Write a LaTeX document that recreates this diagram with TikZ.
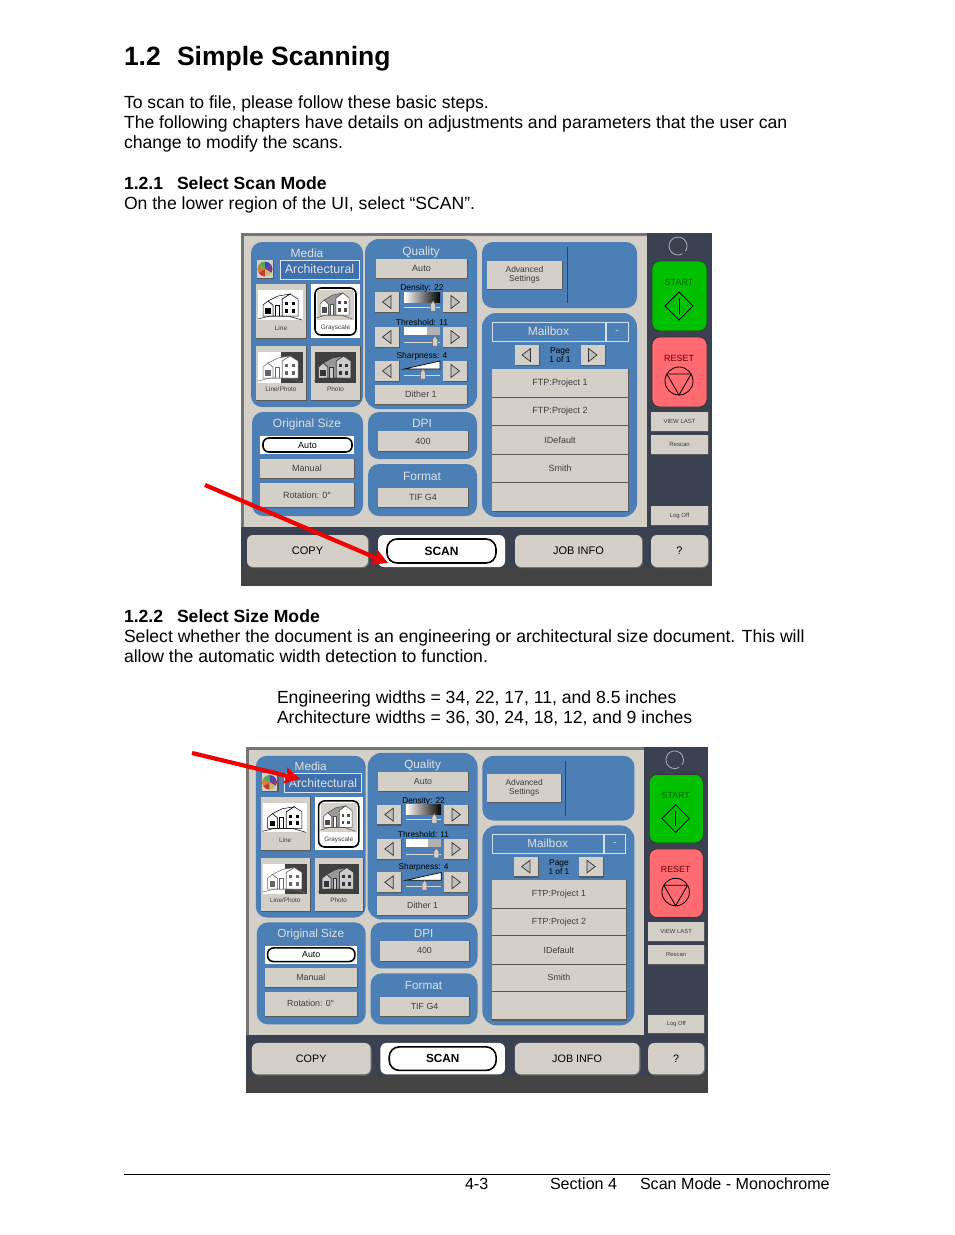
\documentclass[tikz,border=0pt]{standalone}
\usepackage{fontspec}
\setmainfont{Liberation Sans}
\usetikzlibrary{arrows.meta}
\definecolor{uiface}{HTML}{D4D0C8}
\definecolor{uipanel}{HTML}{4B7FB5}
\definecolor{uidark}{HTML}{3A4150}
\definecolor{uiband}{HTML}{434343}
\definecolor{uiframe}{HTML}{757575}
\definecolor{uiblue}{HTML}{3F70AE}
\definecolor{uigreen}{HTML}{00C000}
\definecolor{uired}{HTML}{FF6B70}
\definecolor{uitext}{HTML}{3C3C3C}
\definecolor{arrowred}{HTML}{F00000}
\tikzset{
  txt/.style = {anchor=base west, inner sep=0pt, outer sep=0pt, font=\fontsize{#1}{#1}\selectfont},
  txt/.default = 17.6,
  head/.style = {txt, font=\fontsize{#1}{#1}\selectfont\bfseries},
  head/.default = 17.6,
  panel/.style = {fill=uipanel, rounded corners=#1},
  panel/.default = 11pt,
  btn/.style = {fill=uiface, preaction={draw=black!65, line width=1.2pt, transform canvas={shift={(0.6pt,-0.6pt)}}}},
  softbtn/.style = {fill=uiface, rounded corners=6pt, preaction={draw=black!60, line width=1.2pt, rounded corners=6pt, transform canvas={shift={(0.6pt,-0.6pt)}}}},
  lbl/.style = {inner sep=0pt, text=uitext, transform shape, font=\fontsize{#1}{#1}\selectfont},
  lbl/.default = 9,
  ttl/.style = {lbl=#1, text=white!88!black},
  ttl/.default = 12,
  thumbline/.style = {draw=black, line width=0.5pt},
  redarrow/.style = {draw=arrowred, line width=4.2pt, -{Stealth[length=15pt,width=16pt,inset=2pt]}}
}
% one thumbnail house, box 45 x 30
\newcommand{\uihouse}[5]{
	\begin{scope}[shift={(#1,#2)}]
		\draw[thumbline, draw=#3, fill=#4] (24,26) -- (24,9) -- (32,4) -- (40,9) -- (40,26) -- cycle;
		\draw[thumbline, draw=#3, fill=#4] (5,26) -- (5,15) -- (10,11) -- (15,15) -- (15,26) -- cycle;
		\draw[thumbline, draw=#3, fill=#5] (15,26) -- (15,15) -- (10,11) -- (20,6) -- (32,4) -- (24,9) -- (24,26) -- cycle;
		\draw[thumbline, draw=#3, fill=#4] (17,26) -- (17,15) -- (21,15) -- (21,26);
		\fill[#3] (7,18) rectangle (13,24);
		\fill[#3] (27,12) rectangle (30,15);
		\fill[#3] (34,12) rectangle (37,15);
		\fill[#3] (27,19) rectangle (30,23);
		\fill[#3] (34,19) rectangle (37,23);
		\draw[thumbline, draw=#3] (0,29) -- (12,26) -- (30,26) -- (44,30);
	\end{scope}
}
% small arrow button
\newcommand{\uiarrow}[3]{
	\begin{scope}[shift={(#1,#2)}, xscale=#3]
		\path[btn] (-12,-10) rectangle (12,10);
		\draw[black!80, line width=0.7pt, fill=black!25] (-4.5,0) -- (4,-6.5) -- (4,6.5) -- cycle;
	\end{scope}
}
% slider with thumb
\newcommand{\uislider}[2]{
	\draw[white!85!black, line width=0.6pt] (163,#2) -- (199,#2);
	\draw[black!60, line width=0.5pt, fill=uiface] (#1-2.5,#2-2.5) -- (#1,#2-6) -- (#1+2.5,#2-2.5) -- (#1+2.5,#2+4) -- (#1-2.5,#2+4) -- cycle;
}
% the whole panel, in the pixels of its own corner
\newcommand{\uiscreen}[5]{
\begin{scope}[shift={(#2,#3)}, xscale=#4, yscale=#5, name prefix=#1]
	% Backgrounds
	\fill[uiface] (0,0) rectangle (406,294);
	\fill[uiframe] (0,0) rectangle (406,3);
	\fill[uiframe] (0,0) rectangle (3,294);
	\fill[uidark] (406,0) rectangle (471,353);
	\fill[uidark] (0,294) rectangle (471,335);
	\fill[uiband] (0,335) rectangle (471,353);

	% Panels
	\fill[panel] (10,9) rectangle (122,174);
	\fill[panel=14pt] (124,6) rectangle (236,176);
	\fill[panel] (11,179) rectangle (122,283);
	\fill[panel] (127,179) rectangle (236,226);
	\fill[panel] (127,231) rectangle (236,283);
	\fill[panel] (241,9) rectangle (396,75);
	\fill[panel=14pt] (241,80) rectangle (396,284);

	% Media
	\node[ttl] (media) at (66,20) {Media};
	\path[btn] (16,27) rectangle (32,45);
	\fill[red!55!gray] (24,36) -- +(90:7.5) arc (90:150:7.5) -- cycle;
	\fill[orange!65!gray] (24,36) -- +(150:7.5) arc (150:210:7.5) -- cycle;
	\fill[green!35!gray] (24,36) -- +(210:7.5) arc (210:270:7.5) -- cycle;
	\fill[blue!45!gray] (24,36) -- +(270:7.5) arc (270:330:7.5) -- cycle;
	\fill[violet!55!gray] (24,36) -- +(330:7.5) arc (330:390:7.5) -- cycle;
	\fill[yellow!45!gray] (24,36) -- +(30:7.5) arc (30:90:7.5) -- cycle;
	\draw[fill=uiblue, draw=white!80!uipanel, line width=0.7pt] (39,27) rectangle (118,46);
	\node[ttl=12.5] (arch) at (78.5,36.5) {Architectural};

	\path[btn] (15,51) rectangle (65,105);
	\fill[white] (17,57) rectangle (62,87);
	\uihouse{17}{57}{black}{white}{white}
	\node[lbl=6.5] (line) at (40,95) {Line};
	\fill[white] (70,51) rectangle (119,105);
	\draw[black, line width=1.6pt, rounded corners=6pt] (74,55) rectangle (115,102);
	\fill[uiface] (76,57) rectangle (113,87);
	\begin{scope}[shift={(75,56)}, xscale=0.83]
		\uihouse{0}{0}{black!70}{white}{black!40}
	\end{scope}
	\node[lbl=6.5] (gray) at (94.5,95) {Grayscale};
	\path[btn] (15,113) rectangle (65,167);
	\fill[white] (17,119) rectangle (40,150);
	\fill[black!75] (40,119) rectangle (62,150);
	\uihouse{17}{119}{black!60}{white}{white}
	\node[lbl=6.5] (linephoto) at (40,156) {Line/Photo};
	\path[btn] (70,113) rectangle (119,167);
	\fill[black!75] (74,119) rectangle (115,150);
	\begin{scope}[shift={(73,119)}, xscale=0.92]
		\uihouse{0}{0}{black!80}{white!80!black}{black!40}
	\end{scope}
	\node[lbl=6.5] (photo) at (94.5,156) {Photo};

	% Quality
	\node[ttl] (quality) at (180,19) {Quality};
	\path[btn] (135,26) rectangle (226,45) node[midway, lbl] (auto) {Auto};
	\node[lbl=8.5, text=black] (density) at (181,55) {Density: 22};
	\uiarrow{146}{69}{1}
	\uiarrow{214}{69}{-1}
	\shade[left color=white, right color=black] (163,59) rectangle (199,69);
	\uislider{192}{74}
	\node[lbl=8.5, text=black] (threshold) at (181,89) {Threshold: 11};
	\uiarrow{146}{104}{1}
	\uiarrow{214}{104}{-1}
	\fill[white] (163,94) rectangle (199,102);
	\fill[black!30] (186,94) rectangle (199,102);
	\uislider{194}{109}
	\node[lbl=8.5, text=black] (sharpness) at (181,123) {Sharpness: 4};
	\uiarrow{146}{138}{1}
	\uiarrow{214}{138}{-1}
	\draw[fill=white, line width=0.7pt] (163,136) -- (199,128) -- (199,136) -- cycle;
	\uislider{182}{142}
	\path[btn] (134,152) rectangle (226,171) node[midway, lbl] (dither) {Dither 1};

	% Original size
	\node[ttl] (orig) at (66,191) {Original Size};
	\fill[white] (19,203) rectangle (113,221);
	\draw[black, line width=1.6pt, rounded corners=6pt, fill=white] (22,205) rectangle (111,219) node[midway, lbl, text=black] (sizeauto) {Auto};
	\path[btn] (19,226) rectangle (113,245) node[midway, lbl] (manual) {Manual};
	\path[btn] (19,250) rectangle (113,274) node[midway, lbl] (rotation) {Rotation: 0\textdegree};

	% DPI and format
	\node[ttl] (dpi) at (181,190) {DPI};
	\path[btn] (137,198) rectangle (227,218) node[midway, lbl] (dpival) {400};
	\node[ttl] (format) at (181,243) {Format};
	\path[btn] (137,255) rectangle (227,274) node[midway, lbl] (tif) {TIF G4};

	% Advanced
	\path[btn] (246,28) rectangle (321,56) node[midway, lbl=8.5, align=center] (advanced) {Advanced\\[1pt]Settings};
	\draw[uidark, line width=0.7pt] (326,14) -- (326,70);

	% Mailbox
	\draw[draw=white!75!uipanel, line width=0.6pt] (251,89) rectangle (364,108);
	\node[ttl] (mailbox) at (307.5,98.5) {Mailbox};
	\draw[draw=white!75!uipanel, line width=0.6pt] (365,89) rectangle (387,108);
	\node[ttl=10] (minus) at (376,98.5) {-};
	\uiarrow{285.5}{122}{1}
	\uiarrow{351.5}{122}{-1}
	\node[lbl=8.5, text=black, align=center] (page) at (319,122.5) {Page\\[0.5pt]1 of 1};
	\path[btn] (251,136) rectangle (387,164) node[midway, lbl] (rowa) {FTP:Project 1};
	\path[btn] (251,165) rectangle (387,192) node[midway, lbl] (rowb) {FTP:Project 2};
	\path[btn] (251,193) rectangle (387,221) node[midway, lbl] (rowc) {IDefault};
	\path[btn] (251,222) rectangle (387,249) node[midway, lbl] (rowd) {Smith};
	\path[btn] (251,250) rectangle (387,278);

	% Right column
	\draw[white!70!black, line width=0.8pt] (437,13) ++(60:9) arc (60:395:9);
	\draw[black!80, fill=uigreen, rounded corners=8pt, line width=0.7pt] (411,28) rectangle (466,98);
	\node[lbl=9, text=green!40!black] (start) at (438,49) {START};
	\draw[black, line width=0.8pt] (438,59) -- (452,73) -- (438,87) -- (424,73) -- cycle;
	\draw[black, line width=0.8pt] (438,65) -- (438,81);
	\draw[black!80, fill=uired, rounded corners=8pt, line width=0.7pt] (411,104) rectangle (466,174);
	\node[lbl=9, text=red!40!black] (reset) at (438,125) {RESET};
	\draw[black, line width=0.8pt] (438,148) circle (14);
	\draw[black, line width=0.8pt] (425.9,141) -- (450.1,141) -- (438,162) -- cycle;
	\path[btn] (410,179) rectangle (467,198) node[midway, lbl=6] (viewlast) {VIEW LAST};
	\path[btn] (410,202) rectangle (467,221) node[midway, lbl=6] (rescan) {Rescan};
	\path[btn] (410,273) rectangle (467,292) node[midway, lbl=6] (logoff) {Log Off};

	% Bottom row
	\path[softbtn] (6,302) rectangle (127,334) node[midway, lbl=11, text=black] (copy) {COPY};
	\fill[white, rounded corners=6pt] (137,302) rectangle (264,334);
	\draw[black, line width=1.6pt, rounded corners=10pt] (146,306) rectangle (255,330) node[midway, lbl=12, text=black, font=\fontsize{12}{12}\selectfont\bfseries] (scan) {SCAN};
	\path[softbtn] (274,302) rectangle (401,334) node[midway, lbl=11, text=black] (jobinfo) {JOB INFO};
	\path[softbtn] (410,302) rectangle (467,334) node[midway, lbl=11, text=black] (help) {?};
\end{scope}
}

\begin{document}
\begin{tikzpicture}[x=1pt, y=-1pt]
	\useasboundingbox (0,0) rectangle (954,1235);
	\fill[white] (0,0) rectangle (954,1235);

	% Section 1.2
	\node[head=26.5] (title) at (124,65) {1.2};
	\node[head=26.5] (titleb) at (177,65) {Simple Scanning};
	\node[txt] (introa) at (124,108) {To scan to file, please follow these basic steps.};
	\node[txt] (introb) at (124,128) {The following chapters have details on adjustments and parameters that the user can};
	\node[txt] (introc) at (124,148) {change to modify the scans.};

	% Section 1.2.1
	\node[head] (moda) at (124,189) {1.2.1};
	\node[head] (modb) at (177,189) {Select Scan Mode};
	\node[txt] (modc) at (124,209) {On the lower region of the UI, select “SCAN”.};
	\uiscreen{a-}{241}{233}{1}{1}

	% Section 1.2.2
	\node[head] (sizea) at (124,622) {1.2.2};
	\node[head] (sizeb) at (177,622) {Select Size Mode};
	\node[txt] (sizec) at (124,642) {Select whether the document is an engineering or architectural size document. This will};
	\node[txt] (sized) at (124,662) {allow the automatic width detection to function.};
	\node[txt] (widtha) at (277,703) {Engineering widths = 34, 22, 17, 11, and 8.5 inches};
	\node[txt] (widthb) at (277,723) {Architecture widths = 36, 30, 24, 18, 12, and 9 inches};
	\uiscreen{b-}{246}{747}{0.981}{0.98}

	% Arrows
	\coordinate (tailscan) at (205,485);
	\coordinate (tipscan) at (388,563);
	\coordinate (tailmedia) at (192,753);
	\coordinate (tipmedia) at (300,779);
	\draw[redarrow] (tailscan) -- (tipscan);
	\draw[redarrow] (tailmedia) -- (tipmedia);

	% Footer
	\coordinate (rulea) at (124,1174.5);
	\coordinate (ruleb) at (830,1174.5);
	\draw[black, line width=0.8pt] (rulea) -- (ruleb);
	\node[txt=16.1] (pagenum) at (465,1189) {4-3};
	\node[txt=16.1] (section) at (550,1189) {Section 4};
	\node[txt=16.1] (chapter) at (640,1189) {Scan Mode - Monochrome};
\end{tikzpicture}
\end{document}
